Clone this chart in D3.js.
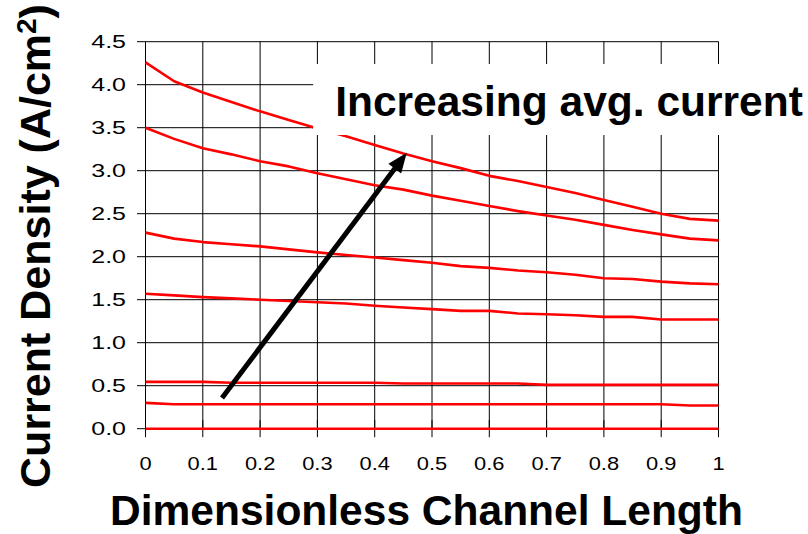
<!DOCTYPE html>
<html>
<head>
<meta charset="utf-8">
<script src="https://cdn.jsdelivr.net/npm/d3@7"></script>
<style>
  html, body { margin: 0; padding: 0; background: #fff; }
  svg { display: block; font-family: "Liberation Sans", Arial, sans-serif; }
</style>
</head>
<body>
<svg id="chart" width="808" height="534"></svg>
<script>
// ---- data ----
const xValues = [0, 0.05, 0.1, 0.15, 0.2, 0.25, 0.3, 0.35, 0.4, 0.45, 0.5, 0.55, 0.6, 0.65, 0.7, 0.75, 0.8, 0.85, 0.9, 0.95, 1.0];
const series1 = [4.26, 4.04, 3.91, 3.80, 3.69, 3.59, 3.49, 3.40, 3.30, 3.20, 3.11, 3.03, 2.94, 2.88, 2.81, 2.74, 2.66, 2.58, 2.50, 2.44, 2.42];
const series2 = [3.50, 3.37, 3.26, 3.19, 3.11, 3.05, 2.97, 2.90, 2.83, 2.78, 2.71, 2.65, 2.59, 2.53, 2.48, 2.43, 2.37, 2.31, 2.26, 2.21, 2.19];
const series3 = [2.28, 2.21, 2.17, 2.145, 2.12, 2.085, 2.05, 2.02, 1.99, 1.96, 1.93, 1.89, 1.87, 1.84, 1.82, 1.79, 1.75, 1.74, 1.71, 1.69, 1.68];
const series4 = [1.57, 1.55, 1.53, 1.515, 1.50, 1.485, 1.47, 1.455, 1.43, 1.41, 1.39, 1.37, 1.37, 1.34, 1.33, 1.32, 1.30, 1.30, 1.27, 1.27, 1.27];
const series5 = [0.545, 0.545, 0.545, 0.535, 0.535, 0.535, 0.535, 0.535, 0.535, 0.525, 0.525, 0.525, 0.525, 0.525, 0.51, 0.51, 0.51, 0.51, 0.51, 0.51, 0.51];
const series6 = [0.30, 0.285, 0.285, 0.285, 0.285, 0.285, 0.285, 0.285, 0.285, 0.285, 0.285, 0.285, 0.285, 0.285, 0.285, 0.285, 0.285, 0.285, 0.285, 0.27, 0.27];
const series7 = [0, 0, 0, 0, 0, 0, 0, 0, 0, 0, 0, 0, 0, 0, 0, 0, 0, 0, 0, 0, 0];
const allSeries = [series1, series2, series3, series4, series5, series6, series7];

const xTicks = [0, 0.1, 0.2, 0.3, 0.4, 0.5, 0.6, 0.7, 0.8, 0.9, 1];
const xTickLabels = ["0", "0.1", "0.2", "0.3", "0.4", "0.5", "0.6", "0.7", "0.8", "0.9", "1"];
const yTicks = [0, 0.5, 1.0, 1.5, 2.0, 2.5, 3.0, 3.5, 4.0, 4.5];
const yTickLabels = ["0.0", "0.5", "1.0", "1.5", "2.0", "2.5", "3.0", "3.5", "4.0", "4.5"];

const xTitle = "Dimensionless Channel Length";
const yTitleMain = "Current Density (A/cm";
const yTitleSup = "2";
const yTitleEnd = ")";
const annotationText = "Increasing avg. current";
// annotation arrow in data coordinates: [start, tip]
const arrowStart = [0.1335, 0.357];
const arrowTip = [0.456, 3.21];
const annotationAnchor = [0.331, 3.636];

// ---- layout ----
const svg = d3.select("#chart");
const x = d3.scaleLinear().domain([0, 1]).range([145.5, 718.5]);
const y = d3.scaleLinear().domain([0, 4.5]).range([428.7, 41.7]);

// grid
const grid = svg.append("g");
grid.selectAll("line.v").data(xTicks).enter().append("line")
  .attr("x1", d => x(d)).attr("x2", d => x(d))
  .attr("y1", y(4.5)).attr("y2", y(0))
  .attr("stroke", "#000").attr("stroke-width", 1);
grid.selectAll("line.h").data(yTicks).enter().append("line")
  .attr("x1", x(0)).attr("x2", x(1))
  .attr("y1", d => y(d)).attr("y2", d => y(d))
  .attr("stroke", "#000").attr("stroke-width", 1);

// y ticks (outside)
svg.append("g").selectAll("line").data(yTicks).enter().append("line")
  .attr("x1", x(0) - 8.5).attr("x2", x(0))
  .attr("y1", d => y(d)).attr("y2", d => y(d))
  .attr("stroke", "#000").attr("stroke-width", 1);
// x ticks (cross)
svg.append("g").selectAll("line").data(xTicks).enter().append("line")
  .attr("x1", d => x(d)).attr("x2", d => x(d))
  .attr("y1", y(0) - 8.5).attr("y2", y(0) + 8.5)
  .attr("stroke", "#000").attr("stroke-width", 1);

// tick labels (glyphs are horizontally widened in the reference)
svg.append("g").selectAll("text").data(yTicks).enter().append("text")
  .attr("transform", d => `translate(126,${y(d) + 6.6}) scale(1.35,1)`)
  .attr("text-anchor", "end").attr("font-size", 18.5).attr("fill", "#000")
  .text((d, i) => yTickLabels[i]);
svg.append("g").selectAll("text").data(xTicks).enter().append("text")
  .attr("transform", d => `translate(${x(d)},469.5) scale(1.25,1)`)
  .attr("text-anchor", "middle").attr("font-size", 17.5).attr("fill", "#000")
  .text((d, i) => xTickLabels[i]);

// series lines
const line = d3.line().x((d, i) => x(xValues[i])).y(d => y(d));
svg.append("g").selectAll("path").data(allSeries).enter().append("path")
  .attr("d", line)
  .attr("fill", "none").attr("stroke", "#ff0000").attr("stroke-width", 2.6)
  .attr("stroke-linejoin", "round");

// annotation box + text
const ann = svg.append("g");
const box = ann.append("rect").attr("fill", "#fff");
const annT = ann.append("text")
  .attr("x", x(annotationAnchor[0])).attr("y", y(annotationAnchor[1]))
  .attr("font-size", 42.5).attr("font-weight", "bold").attr("fill", "#000")
  .text(annotationText);
const bb = annT.node().getBBox();
box.attr("x", bb.x - 22).attr("y", bb.y - 14).attr("width", 808 - (bb.x - 22) + 10).attr("height", bb.height + 24);

// arrow
const ax1 = x(arrowStart[0]), ay1 = y(arrowStart[1]);
const ax2 = x(arrowTip[0]), ay2 = y(arrowTip[1]);
const ang = Math.atan2(ay2 - ay1, ax2 - ax1);
const headLen = 20, headHalf = 8;
const bx = ax2 - headLen * Math.cos(ang), by = ay2 - headLen * Math.sin(ang);
svg.append("line")
  .attr("x1", ax1).attr("y1", ay1).attr("x2", bx + 2 * Math.cos(ang)).attr("y2", by + 2 * Math.sin(ang))
  .attr("stroke", "#000").attr("stroke-width", 5);
svg.append("path")
  .attr("d", `M${ax2},${ay2} L${bx + headHalf * Math.sin(ang)},${by - headHalf * Math.cos(ang)} L${bx - headHalf * Math.sin(ang)},${by + headHalf * Math.cos(ang)} Z`)
  .attr("fill", "#000");

// axis titles
svg.append("text")
  .attr("x", (108 + 745) / 2).attr("y", 524.5)
  .attr("text-anchor", "middle").attr("font-size", 42.5).attr("font-weight", "bold").attr("fill", "#000")
  .text(xTitle);

const yt = svg.append("text")
  .attr("transform", "translate(50,246) rotate(-90)")
  .attr("text-anchor", "middle").attr("font-size", 43).attr("font-weight", "bold").attr("fill", "#000");
yt.append("tspan").text(yTitleMain);
yt.append("tspan").attr("font-size", 28).attr("dy", -14).text(yTitleSup);
yt.append("tspan").attr("dy", 14).text(yTitleEnd);
</script>
</body>
</html>
